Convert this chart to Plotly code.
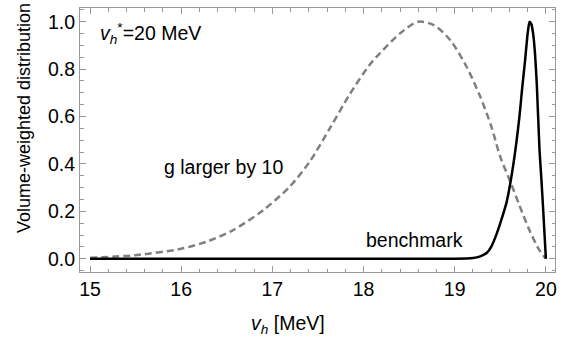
import plotly.graph_objects as go

# benchmark curve (solid black)
bench_x = [15.0, 18.5, 19.0, 19.2, 19.28, 19.35, 19.4, 19.46, 19.5, 19.57, 19.64, 19.71,
           19.74, 19.77, 19.8, 19.82, 19.84, 19.86, 19.88, 19.9, 19.93, 19.95, 19.97, 20.0]
bench_y = [0.0, 0.0, 0.0, 0.003, 0.01, 0.024, 0.05, 0.105, 0.15, 0.24, 0.39, 0.6,
           0.72, 0.83, 0.95, 1.0, 0.99, 0.95, 0.87, 0.74, 0.46, 0.34, 0.21, 0.0]

# "g larger by 10" curve (dashed gray)
glarge_x = [15.0, 15.5, 16.0, 16.3, 16.57, 16.9, 17.19, 17.41, 17.63, 17.85, 18.07,
            18.18, 18.4, 18.6, 18.77, 18.95, 19.13, 19.28, 19.4, 19.5, 19.61, 19.71,
            19.82, 19.93, 20.0]
glarge_y = [0.004, 0.015, 0.042, 0.075, 0.121, 0.205, 0.304, 0.41, 0.55, 0.695, 0.82,
            0.867, 0.951, 1.0, 0.986, 0.923, 0.81, 0.684, 0.56, 0.43, 0.325, 0.225,
            0.12, 0.035, 0.0]

x_ticks = [15, 16, 17, 18, 19, 20]
y_ticks = [0.0, 0.2, 0.4, 0.6, 0.8, 1.0]

FONT = "Liberation Sans, Arial, sans-serif"
FRAME = "#9a9a9a"
FS = 19.5

fig = go.Figure()
fig.add_trace(go.Scatter(x=glarge_x, y=glarge_y, mode="lines", line_shape="spline",
                         line=dict(color="#808080", width=2.5, dash="7px,4px", smoothing=0.8),
                         showlegend=False, hoverinfo="skip"))
fig.add_trace(go.Scatter(x=bench_x, y=bench_y, mode="lines", line_shape="spline",
                         line=dict(color="black", width=2.5, smoothing=0.5),
                         showlegend=False, hoverinfo="skip"))

axis_common = dict(showgrid=False, zeroline=False, showline=True, linecolor=FRAME,
                   linewidth=1, mirror="ticks", ticks="inside", tickcolor=FRAME,
                   ticklen=6, tickwidth=1, tickfont=dict(family=FONT, size=FS, color="black"))

fig.update_xaxes(range=[14.89, 20.1], tickvals=x_ticks, ticktext=[str(v) for v in x_ticks],
                 minor=dict(dtick=0.2, tick0=15, ticks="inside", ticklen=3.5, tickcolor=FRAME,
                            showgrid=False),
                 **axis_common)
fig.update_yaxes(range=[-0.056, 1.058], tickvals=y_ticks, ticktext=[f"{v:.1f}" for v in y_ticks],
                 minor=dict(dtick=0.05, tick0=0, ticks="inside", ticklen=3.5, tickcolor=FRAME,
                            showgrid=False),
                 **axis_common)

annots = [
    dict(text="<i>v<sub>h</sub></i><sup>*</sup>=20 MeV", x=0.037, y=0.905, xanchor="left",
         yanchor="middle", size=FS),
    dict(text="g larger by 10", x=0.172, y=0.398, xanchor="left", yanchor="middle", size=FS),
    dict(text="benchmark", x=0.598, y=0.123, xanchor="left", yanchor="middle", size=FS),
    dict(text="<i>v<sub>h</sub></i> [MeV]", x=0.438, y=-0.197, xanchor="center",
         yanchor="middle", size=FS),
    dict(text="Volume-weighted distribution", x=0.0, xshift=-56, y=0.583,
         xanchor="center", yanchor="middle", textangle=-90, size=18),
]
for a in annots:
    sz = a.pop("size")
    fig.add_annotation(xref="paper", yref="paper", showarrow=False,
                       font=dict(family=FONT, size=sz, color="black"), **a)

fig.update_layout(width=574, height=348, margin=dict(l=80, r=19, t=8, b=76),
                  paper_bgcolor="white", plot_bgcolor="white")

fig.write_html("out.html")
